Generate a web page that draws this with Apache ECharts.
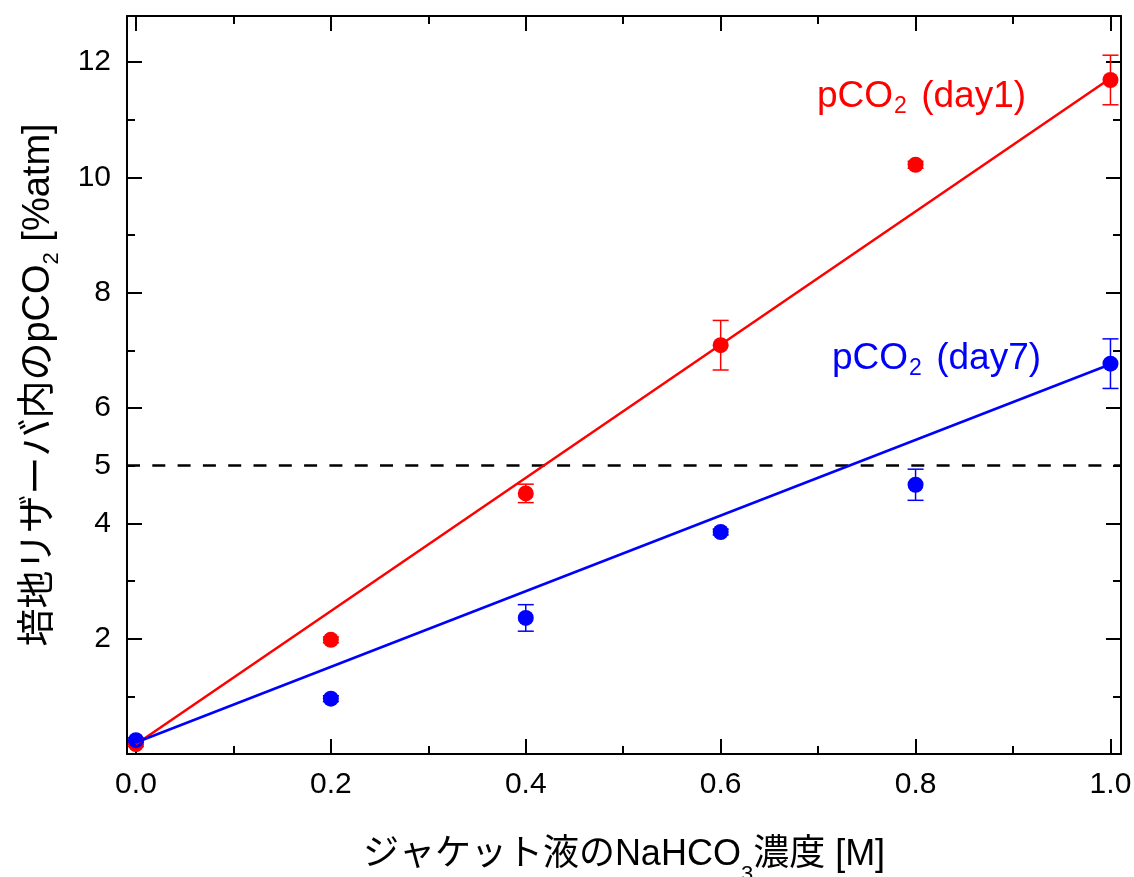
<!DOCTYPE html>
<html><head><meta charset="utf-8">
<script src="https://cdn.jsdelivr.net/npm/echarts@6/dist/echarts.min.js"></script>
<style>html,body{margin:0;padding:0;background:#fff}#c{width:1134px;height:877px}</style>
</head><body><div id="c"></div>
<script>
// ---- data ----
const concentrations = [0, 0.2, 0.4, 0.6, 0.8, 1.0];
const day1Values = [0.17, 1.98, 4.52, 7.09, 10.22, 11.69];
const day1Errors = [0.04, 0.05, 0.16, 0.43, 0.06, 0.43];
const day7Values = [0.24, 0.96, 2.36, 3.85, 4.67, 6.77];
const day7Errors = [0.04, 0.05, 0.23, 0.05, 0.27, 0.43];
const fitX = [0, 1.0];
const day1Fit = [0.17, 11.72];
const day7Fit = [0.20, 6.76];
const thresholdValue = 5;
const xTickLabels = ['0.0', '0.2', '0.4', '0.6', '0.8', '1.0'];
const yMajorLabels = [2, 4, 6, 8, 10, 12];
const yExtraLabels = [5];

const FONT = '"Liberation Sans", "Noto Sans CJK JP", sans-serif';
const RED = '#ff0000', BLUE = '#0000ff';

const chart = echarts.init(document.getElementById('c'), null, {renderer: 'canvas'});

function axisBase(pos, opts) {
  return Object.assign({
    type: 'value', position: pos,
    axisLine: {show: true, onZero: false, lineStyle: {color: '#000', width: 2}},
    axisTick: {show: true, inside: true, length: 15, lineStyle: {color: '#000', width: 2}},
    axisLabel: {show: false},
    splitLine: {show: false}
  }, opts);
}
const minorTick = {show: true, inside: true, length: 8, lineStyle: {color: '#000', width: 2}};
const xRange = {min: -0.0092, max: 1.0108};
const yRange = {min: 0, max: 12.8};
const labelStyle = {fontSize: 30, color: '#000', fontFamily: FONT, margin: 16};

function xFmt(v) {
  const l = xTickLabels.find(s => Math.abs(parseFloat(s) - v) < 1e-6);
  return l || '';
}

function errData(vals, errs) {
  return concentrations.map((x, i) => [x, vals[i], errs[i]]);
}
function errRender(color) {
  return function (params, api) {
    const x = api.value(0), y = api.value(1), e = api.value(2);
    const t = api.coord([x, y + e]), b = api.coord([x, y - e]);
    const hw = 8;
    const st = {stroke: color, lineWidth: 1.5};
    return {type: 'group', children: [
      {type: 'line', shape: {x1: t[0], y1: t[1], x2: b[0], y2: b[1]}, style: st},
      {type: 'line', shape: {x1: t[0] - hw, y1: t[1], x2: t[0] + hw, y2: t[1]}, style: st},
      {type: 'line', shape: {x1: b[0] - hw, y1: b[1], x2: b[0] + hw, y2: b[1]}, style: st}
    ]};
  };
}

function annot(color) {
  return {
    t: {fontSize: 37, lineHeight: 44, fontFamily: FONT, color: color},
    s: {fontSize: 23, lineHeight: 20, verticalAlign: 'bottom', fontFamily: FONT, color: color, padding: [0, 4, 0, 1]}
  };
}

const option = {
  backgroundColor: '#fff',
  animation: false,
  grid: {left: 127, right: 13, top: 16, bottom: 123, containLabel: false, outerBoundsMode: 'none'},
  xAxis: [
    axisBase('bottom', Object.assign({}, xRange, {
      splitNumber: 5,
      axisLabel: Object.assign({show: true, showMinLabel: false, showMaxLabel: false, formatter: xFmt}, labelStyle),
      name: '{t|ジャケット液のNaHCO}{s|3}{t|濃度 [M]}',
      nameLocation: 'middle', nameGap: 70,
      nameTextStyle: {
        rich: {
          t: {fontSize: 36, lineHeight: 62, fontFamily: FONT, color: '#000'},
          s: {fontSize: 22, lineHeight: 20, verticalAlign: 'bottom', fontFamily: FONT, color: '#000'}
        }
      }
    })),
    axisBase('bottom', Object.assign({}, xRange, {splitNumber: 10, axisLine: {show: false, onZero: false}, axisTick: minorTick})),
    axisBase('top', Object.assign({}, xRange, {splitNumber: 5})),
    axisBase('top', Object.assign({}, xRange, {splitNumber: 10, axisLine: {show: false, onZero: false}, axisTick: minorTick}))
  ],
  yAxis: [
    axisBase('left', Object.assign({}, yRange, {
      interval: 2,
      axisLabel: Object.assign({show: true, formatter: v => yMajorLabels.includes(v) ? String(v) : ''}, labelStyle),
      name: '{t|培地リザーバ内のpCO}{s|2}{t| [%atm]}',
      nameLocation: 'middle', nameGap: 64, nameRotate: 90,
      nameTextStyle: {
        rich: {
          t: {fontSize: 38, lineHeight: 48, fontFamily: FONT, color: '#000'},
          s: {fontSize: 22, lineHeight: 20, verticalAlign: 'bottom', fontFamily: FONT, color: '#000'}
        }
      }
    })),
    axisBase('left', Object.assign({}, yRange, {
      interval: 1, axisLine: {show: false, onZero: false}, axisTick: minorTick,
      axisLabel: Object.assign({show: true, formatter: v => yExtraLabels.includes(v) ? String(v) : ''}, labelStyle)
    })),
    axisBase('right', Object.assign({}, yRange, {interval: 2})),
    axisBase('right', Object.assign({}, yRange, {interval: 1, axisLine: {show: false, onZero: false}, axisTick: minorTick}))
  ],
  graphic: [
    {type: 'text', left: 817, top: 78, z: 100, style: {
      text: '{t|pCO}{s|2}{t| (day1)}', fill: RED, rich: annot(RED)
    }},
    {type: 'text', left: 832, top: 340, z: 100, style: {
      text: '{t|pCO}{s|2}{t| (day7)}', fill: BLUE, rich: annot(BLUE)
    }}
  ],
  series: [
    {
      name: 'threshold', type: 'line', data: [], xAxisIndex: 0, yAxisIndex: 0,
      markLine: {
        silent: true, symbol: ['none', 'none'], label: {show: false},
        lineStyle: {type: [13, 12.3], color: '#000', width: 2.5},
        data: [{yAxis: thresholdValue}]
      }
    },
    {type: 'custom', name: 'day1err', renderItem: errRender(RED), data: errData(day1Values, day1Errors), encode: {x: 0, y: 1}, z: 3},
    {type: 'custom', name: 'day7err', renderItem: errRender(BLUE), data: errData(day7Values, day7Errors), encode: {x: 0, y: 1}, z: 3},
    {type: 'scatter', name: 'day1', data: concentrations.map((x, i) => [x, day1Values[i]]), symbolSize: 16, itemStyle: {color: RED, opacity: 1}, z: 4},
    {type: 'scatter', name: 'day7', data: concentrations.map((x, i) => [x, day7Values[i]]), symbolSize: 16, itemStyle: {color: BLUE, opacity: 1}, z: 4},
    {type: 'line', name: 'day1fit', data: fitX.map((x, i) => [x, day1Fit[i]]), symbol: 'none', lineStyle: {color: RED, width: 2.5}, z: 5},
    {type: 'line', name: 'day7fit', data: fitX.map((x, i) => [x, day7Fit[i]]), symbol: 'none', lineStyle: {color: BLUE, width: 2.5}, z: 5}
  ]
};
chart.setOption(option);
</script></body></html>
